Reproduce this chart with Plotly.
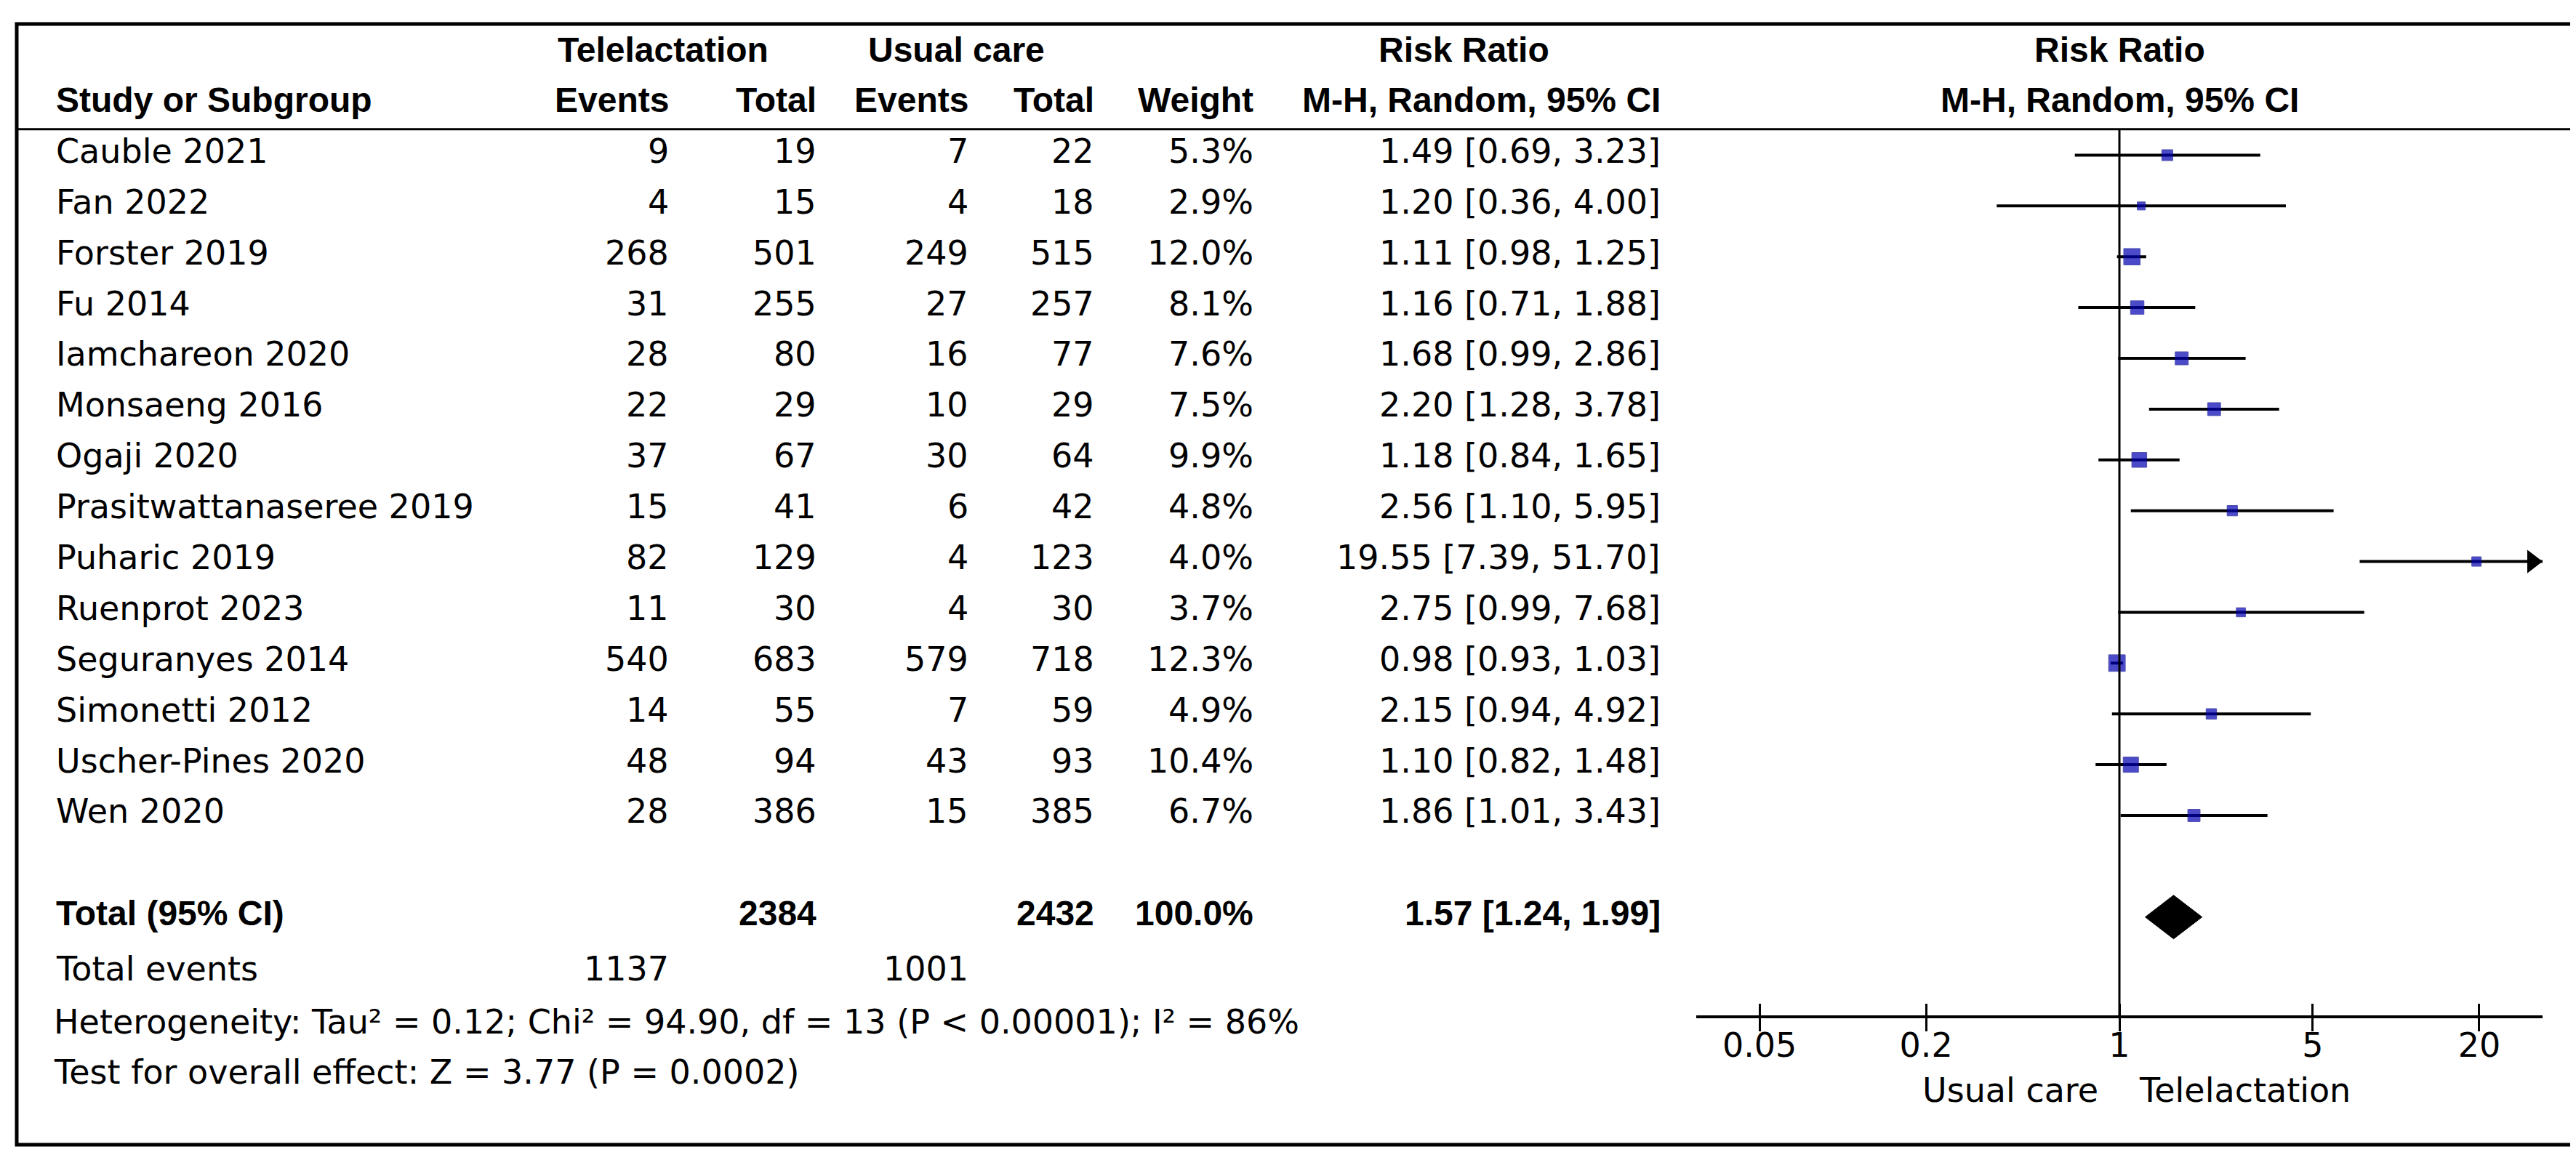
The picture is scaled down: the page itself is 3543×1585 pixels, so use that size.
import numpy as np
import plotly.graph_objects as go

# ---------------------------------------------------------------
# Data
# ---------------------------------------------------------------
studies = [
    "Cauble 2021", "Fan 2022", "Forster 2019", "Fu 2014", "Iamchareon 2020",
    "Monsaeng 2016", "Ogaji 2020", "Prasitwattanaseree 2019", "Puharic 2019",
    "Ruenprot 2023", "Seguranyes 2014", "Simonetti 2012", "Uscher-Pines 2020",
    "Wen 2020",
]
tele_events = [9, 4, 268, 31, 28, 22, 37, 15, 82, 11, 540, 14, 48, 28]
tele_total = [19, 15, 501, 255, 80, 29, 67, 41, 129, 30, 683, 55, 94, 386]
usual_events = [7, 4, 249, 27, 16, 10, 30, 6, 4, 4, 579, 7, 43, 15]
usual_total = [22, 18, 515, 257, 77, 29, 64, 42, 123, 30, 718, 59, 93, 385]
weights = [5.3, 2.9, 12.0, 8.1, 7.6, 7.5, 9.9, 4.8, 4.0, 3.7, 12.3, 4.9, 10.4, 6.7]
rr = [1.49, 1.20, 1.11, 1.16, 1.68, 2.20, 1.18, 2.56, 19.55, 2.75, 0.98, 2.15, 1.10, 1.86]
ci_low = [0.69, 0.36, 0.98, 0.71, 0.99, 1.28, 0.84, 1.10, 7.39, 0.99, 0.93, 0.94, 0.82, 1.01]
ci_high = [3.23, 4.00, 1.25, 1.88, 2.86, 3.78, 1.65, 5.95, 51.70, 7.68, 1.03, 4.92, 1.48, 3.43]

total_tele = 2384
total_usual = 2432
total_weight = "100.0%"
total_rr = 1.57
total_low = 1.24
total_high = 1.99
sum_tele_events = 1137
sum_usual_events = 1001

heterogeneity = "Heterogeneity: Tau² = 0.12; Chi² = 94.90, df = 13 (P &lt; 0.00001); I² = 86%"
overall_test = "Test for overall effect: Z = 3.77 (P = 0.0002)"

tick_vals = [0.05, 0.2, 1, 5, 20]
tick_text = ["0.05", "0.2", "1", "5", "20"]
favours_left = "Usual care"
favours_right = "Telelactation"

# ---------------------------------------------------------------
# Layout constants
# ---------------------------------------------------------------
W, H = 3543, 1585
FONT_B = "Liberation Sans, Arial, sans-serif"
FONT_R = "DejaVu Sans, Verdana, sans-serif"
FS_B = 48
FS_R = 46
Y_TOP, Y_BOT = -2.94, 19.74          # y axis in "row" units, reversed
LOG_MIN, LOG_MAX = -1.53, 1.53       # x axis range (log10)
AX_X0, AX_X1 = 2325, 3489            # pixel extent of the plot axis
TOTAL_ROW = len(studies) + 1
AXIS_ROW = 16.97
HEADER_LINE_ROW = -0.51
TXT_SHIFT = -0.08


def px(x):
    return x / W


def row_to_paper(r):
    return (Y_BOT - r) / (Y_BOT - Y_TOP)


fig = go.Figure()

# reference line at RR = 1
fig.add_trace(
    go.Scatter(
        x=[1, 1], y=[HEADER_LINE_ROW, AXIS_ROW], mode="lines",
        line=dict(color="black", width=3), xaxis="x2", yaxis="y",
        hoverinfo="skip", showlegend=False,
    )
)

# confidence intervals (clipped at the axis end)
x_max = 10 ** LOG_MAX
ci_x, ci_y = [], []
for i in range(len(studies)):
    ci_x += [ci_low[i], min(ci_high[i], x_max), None]
    ci_y += [i, i, None]
fig.add_trace(
    go.Scatter(
        x=ci_x, y=ci_y, mode="lines", line=dict(color="black", width=4),
        hoverinfo="skip", showlegend=False,
    )
)

# arrows for CIs running off the scale
arrow_idx = [i for i in range(len(studies)) if ci_high[i] > x_max]
fig.add_trace(
    go.Scatter(
        x=[10 ** (LOG_MAX - 14 / 381)] * len(arrow_idx), y=arrow_idx,
        mode="markers",
        marker=dict(symbol="triangle-right", size=28, color="black"),
        hoverinfo="skip", showlegend=False,
    )
)

# study point estimates, square size by weight
fig.add_trace(
    go.Scatter(
        x=rr, y=list(range(len(studies))), mode="markers",
        marker=dict(
            symbol="square", size=[6.5 * np.sqrt(w) for w in weights],
            color="#0000b4", line=dict(color="#00008a", width=1),
        ),
        customdata=np.column_stack((studies, ci_low, ci_high)),
        hovertemplate="%{customdata[0]}<br>RR %{x} [%{customdata[1]}, %{customdata[2]}]<extra></extra>",
        showlegend=False,
    )
)

# pooled diamond
half_h = 0.43
fig.add_trace(
    go.Scatter(
        x=[total_low, total_rr, total_high, total_rr, total_low],
        y=[TOTAL_ROW, TOTAL_ROW - half_h, TOTAL_ROW, TOTAL_ROW + half_h, TOTAL_ROW],
        mode="lines", fill="toself", fillcolor="black",
        line=dict(color="black", width=1), hoverinfo="skip", showlegend=False,
    )
)


# ---------------------------------------------------------------
# Table text
# ---------------------------------------------------------------
def txt(x, y, s, anchor="left", bold=False):
    fig.add_annotation(
        x=px(x), y=y + TXT_SHIFT, xref="paper", yref="y",
        text=f"<b>{s}</b>" if bold else s,
        xanchor=anchor, yanchor="middle", showarrow=False,
        font=dict(
            size=FS_B if bold else FS_R, color="black",
            family=FONT_B if bold else FONT_R,
        ),
    )


COL_NAME = 67
COL_TE = 914
COL_TT = 1117
COL_UE = 1326
COL_UT = 1499
COL_W = 1718
COL_RR = 2278
PLOT_CENTER = (AX_X0 + AX_X1) / 2

# headers
txt(757, -2, "Telelactation", bold=True)
txt(1184, -2, "Usual care", bold=True)
txt(2005, -2, "Risk Ratio", "center", bold=True)
txt(PLOT_CENTER, -2, "Risk Ratio", "center", bold=True)
txt(COL_NAME, -1, "Study or Subgroup", bold=True)
txt(COL_TE, -1, "Events", "right", bold=True)
txt(COL_TT, -1, "Total", "right", bold=True)
txt(COL_UE, -1, "Events", "right", bold=True)
txt(COL_UT, -1, "Total", "right", bold=True)
txt(COL_W, -1, "Weight", "right", bold=True)
txt(COL_RR, -1, "M-H, Random, 95% CI", "right", bold=True)
txt(PLOT_CENTER, -1, "M-H, Random, 95% CI", "center", bold=True)

# study rows
for i, name in enumerate(studies):
    txt(COL_NAME, i, name)
    txt(COL_TE, i, str(tele_events[i]), "right")
    txt(COL_TT, i, str(tele_total[i]), "right")
    txt(COL_UE, i, str(usual_events[i]), "right")
    txt(COL_UT, i, str(usual_total[i]), "right")
    txt(COL_W, i, f"{weights[i]:.1f}%", "right")
    txt(COL_RR, i, f"{rr[i]:.2f} [{ci_low[i]:.2f}, {ci_high[i]:.2f}]", "right")

# total rows
txt(COL_NAME, TOTAL_ROW, "Total (95% CI)", bold=True)
txt(COL_TT, TOTAL_ROW, str(total_tele), "right", bold=True)
txt(COL_UT, TOTAL_ROW, str(total_usual), "right", bold=True)
txt(COL_W, TOTAL_ROW, total_weight, "right", bold=True)
txt(COL_RR, TOTAL_ROW, f"{total_rr:.2f} [{total_low:.2f}, {total_high:.2f}]", "right", bold=True)
txt(COL_NAME, 16.1, "Total events")
txt(COL_TE, 16.1, str(sum_tele_events), "right")
txt(COL_UE, 16.1, str(sum_usual_events), "right")
txt(64, 17.15, heterogeneity)
txt(64, 18.13, overall_test)

# favours labels
txt(2880, 18.49, favours_left, "right")
txt(2932, 18.49, favours_right, "left")

# ---------------------------------------------------------------
# Frame lines
# ---------------------------------------------------------------
fig.add_shape(
    type="rect", xref="paper", yref="paper",
    x0=px(15), x1=px(3537), y0=1 - 1567 / H, y1=1 - 25 / H,
    line=dict(color="black", width=5),
)
fig.add_shape(
    type="line", xref="paper", yref="y",
    x0=px(15), x1=px(3537), y0=HEADER_LINE_ROW, y1=HEADER_LINE_ROW,
    line=dict(color="black", width=3),
)

# ---------------------------------------------------------------
# Axes
# ---------------------------------------------------------------
axis_pos = row_to_paper(AXIS_ROW)
common_x = dict(
    type="log", range=[LOG_MIN, LOG_MAX], domain=[px(AX_X0), px(AX_X1)],
    anchor="free", position=axis_pos, showgrid=False, zeroline=False,
    tickvals=tick_vals, ticklen=18, tickwidth=3, tickcolor="black",
)
fig.update_layout(
    xaxis=dict(
        **common_x, ticktext=tick_text, ticks="outside",
        showline=True, linewidth=3.5, linecolor="black",
        ticklabelstandoff=-20,
        tickfont=dict(size=FS_R, color="black", family=FONT_R),
    ),
    xaxis2=dict(
        **common_x, overlaying="x", ticks="inside", showticklabels=False,
        showline=False,
    ),
    yaxis=dict(range=[Y_BOT, Y_TOP], domain=[0, 1], visible=False),
    width=W,
    height=H,
    margin=dict(l=0, r=0, t=0, b=0),
    paper_bgcolor="white",
    plot_bgcolor="white",
    showlegend=False,
    font=dict(family=FONT_B, size=FS_B, color="black"),
)

fig.write_html("out.html")
